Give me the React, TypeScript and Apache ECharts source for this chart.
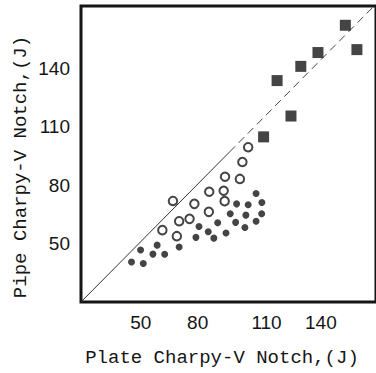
import React, { useEffect, useRef } from "react";
import * as echarts from "echarts";

// Plate (x) vs Pipe (y) Charpy-V notch energies, J
const solidDotsX = [46.2, 52.3, 50.9, 57.3, 59.5, 63.4, 70.9, 79.6, 81.2, 86.0, 88.9, 90.9, 95.2, 97.4, 100.2, 100.7, 105.0, 105.5, 106.7, 110.8, 110.8, 113.7, 113.8];
const solidDotsY = [40.5, 39.8, 46.7, 44.6, 49.2, 44.5, 48.2, 53.2, 58.8, 56.1, 52.8, 60.7, 55.4, 65.3, 60.9, 70.4, 58.3, 64.6, 69.9, 61.5, 75.7, 65.3, 71.1];

const openDotsX = [67.7, 62.2, 69.7, 70.9, 76.3, 78.8, 86.3, 86.5, 94.0, 94.5, 94.7, 102.4, 103.7, 106.7];
const openDotsY = [71.9, 56.9, 53.8, 61.5, 62.7, 70.4, 66.3, 76.6, 77.1, 71.8, 84.3, 83.2, 91.9, 99.5];

const squaresX = [114.7, 121.7, 128.9, 134.0, 142.9, 157.1, 163.1];
const squaresY = [104.8, 133.7, 115.5, 141.0, 148.1, 162.1, 149.6];

const equalityLineSolid = [20, 97];
const equalityLineDashed = [97, 180];

const tickLabels = [50, 80, 110, 140];

const xTitle = "Plate Charpy-V Notch,(J)";
const yTitle = "Pipe Charpy-V Notch,(J)";

const zip = (xs: number[], ys: number[]) => xs.map((x, i) => [x, ys[i]]);

export default function App() {
  const ref = useRef<HTMLDivElement>(null);
  useEffect(() => {
    document.body.style.margin = "0";
    if (!ref.current) return;
    const chart = echarts.init(ref.current, null, { renderer: "svg" });
    const ink = "#151515";
    const labelFont = "Liberation Sans";
    const titleFont = "Liberation Mono";
    const fmt = (v: number) => (tickLabels.includes(v) ? String(v) : "");
    // hand-lettered x labels in the original sit a little right of their ticks
    const xShift: Record<number, number> = { 50: 4, 80: 2, 110: 24, 140: 17 };
    const xRich: Record<string, any> = {};
    tickLabels.forEach((v) => {
      xRich["t" + v] = {
        fontSize: 19,
        fontFamily: labelFont,
        color: ink,
        padding: [0, 0, 0, xShift[v]],
      };
    });
    chart.setOption({
      animation: false,
      backgroundColor: "#ffffff",
      grid: {
        left: 81,
        top: 6,
        right: -3,
        bottom: 71,
        show: true,
        borderColor: ink,
        borderWidth: 3,
      },
      xAxis: {
        type: "value",
        min: 20,
        max: 173,
        interval: 10,
        axisLine: { show: false },
        axisTick: { show: false },
        splitLine: { show: false },
        axisLabel: {
          formatter: (v: number) =>
            tickLabels.includes(v) ? `{t${v}|${v}}` : "",
          rich: xRich,
          interval: 0,
          showMinLabel: true,
          showMaxLabel: false,
          margin: 11,
          fontSize: 19,
          fontFamily: labelFont,
          color: ink,
        },
      },
      yAxis: {
        type: "value",
        min: 20,
        max: 172,
        interval: 10,
        axisLine: { show: false },
        axisTick: { show: false },
        splitLine: { show: false },
        axisLabel: {
          formatter: fmt,
          interval: 0,
          showMaxLabel: false,
          margin: 11,
          fontSize: 19,
          fontFamily: labelFont,
          color: ink,
        },
      },
      graphic: [
        {
          type: "text",
          x: 222,
          y: 358,
          style: {
            text: xTitle,
            font: `19px "${titleFont}"`,
            fill: ink,
            textAlign: "center",
            textVerticalAlign: "middle",
          },
        },
        {
          type: "text",
          x: 21,
          y: 167,
          rotation: Math.PI / 2,
          style: {
            text: yTitle,
            font: `19px "${titleFont}"`,
            fill: ink,
            textAlign: "center",
            textVerticalAlign: "middle",
          },
        },
      ],
      series: [
        {
          type: "line",
          data: equalityLineSolid.map((v) => [v, v]),
          symbol: "none",
          lineStyle: { color: "#333", width: 1 },
          z: 1,
        },
        {
          type: "line",
          data: equalityLineDashed.map((v) => [v, v]),
          symbol: "none",
          lineStyle: { color: "#444", width: 1, type: [8, 5] },
          z: 1,
        },
        {
          type: "scatter",
          data: zip(solidDotsX, solidDotsY),
          symbol: "circle",
          symbolSize: 7,
          itemStyle: { color: ink },
          z: 3,
        },
        {
          type: "scatter",
          data: zip(openDotsX, openDotsY),
          symbol: "circle",
          symbolSize: 8.5,
          itemStyle: { color: "#fff", borderColor: ink, borderWidth: 2 },
          z: 3,
        },
        {
          type: "scatter",
          data: zip(squaresX, squaresY),
          symbol: "rect",
          symbolSize: 11,
          itemStyle: { color: ink },
          z: 3,
        },
      ],
    });
    return () => chart.dispose();
  }, []);
  return (
    <div
      ref={ref}
      style={{ position: "absolute", left: 0, top: 0, width: 376, height: 373 }}
    />
  );
}
